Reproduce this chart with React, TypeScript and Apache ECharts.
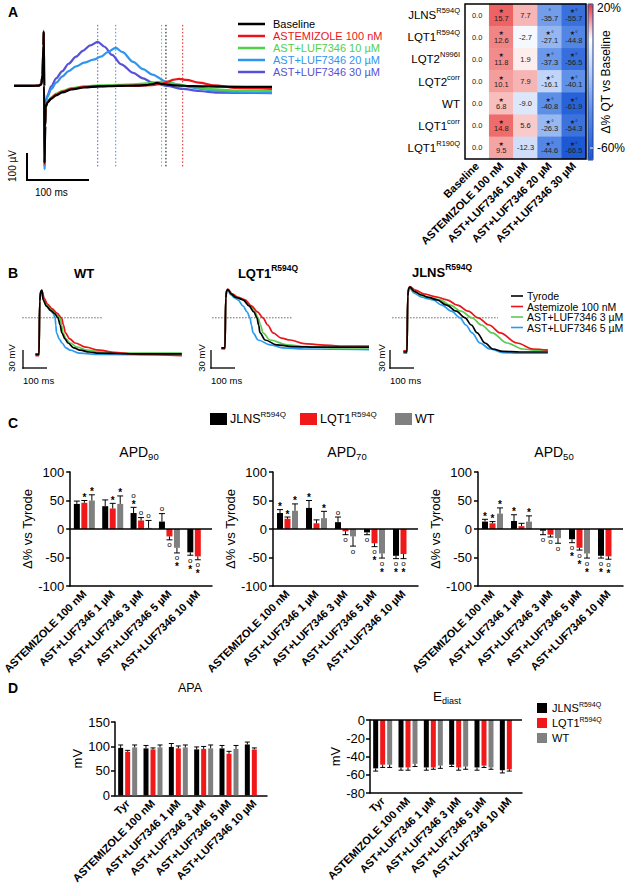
import { useEffect, useRef } from "react";
import * as echarts from "echarts";

const FONT = "'Liberation Sans', Arial, Helvetica, sans-serif";

// ---------------- Panel A: field potentials (ms, µV) ----------------
const fpNames = ["Baseline", "ASTEMIZOLE 100 nM", "AST+LUF7346 10 µM", "AST+LUF7346 20 µM", "AST+LUF7346 30 µM"];
const fpColors = ["#000000", "#e8161b", "#52d04c", "#2f95ee", "#5652d8"];
const fpBaseline = [[-48, 0], [-20, 0], [-8, 1], [-4, 6], [-2, 40], [-0.5, 150], [0, 200], [0.6, 0], [1.3, -285], [2.2, -150], [3, -80], [6, -62], [12, -48], [20, -35], [30, -24], [45, -13], [65, -6], [90, -2], [120, 0], [150, 1], [165, 3], [175, 7], [182, 11], [192, 7], [210, 2], [240, -1], [290, -3], [368, -4]];
const fpAstemizole = [[-48, 0], [-20, 0], [-8, 1], [-4, 6], [-2, 40], [-0.5, 150], [0, 200], [0.6, 0], [1.3, -290], [2.2, -150], [3, -78], [6, -60], [12, -45], [20, -32], [30, -21], [45, -11], [65, -4], [90, -1], [120, 0], [150, 1], [175, 3], [190, 8], [200, 16], [210, 23], [218, 26], [230, 22], [250, 12], [275, 2], [310, -7], [368, -11]];
const fpLuf10 = [[-48, 0], [-20, 0], [-8, 1], [-4, 6], [-2, 40], [-0.5, 150], [0, 200], [0.6, 0], [1.3, -290], [2.2, -150], [3, -76], [6, -58], [12, -42], [20, -29], [30, -18], [45, -8], [65, -2], [90, 2], [120, 4], [145, 6], [165, 9], [180, 13], [190, 15], [200, 13], [215, 6], [240, -4], [270, -12], [310, -17], [368, -19]];
const fpLuf20 = [[-48, 0], [-20, 0], [-8, 1], [-4, 6], [-2, 40], [-0.5, 150], [0, 205], [0.6, 0], [1.3, -310], [2.2, -150], [3, -70], [6, -40], [12, -12], [20, 12], [30, 35], [40, 55], [52, 72], [65, 86], [80, 97], [92, 108], [103, 125], [116, 141], [127, 125], [144, 89], [160, 62], [175, 42], [198, 15], [224, 0], [250, -10], [280, -19], [320, -24], [368, -26]];
const fpLuf30 = [[-48, 0], [-20, 0], [-8, 1], [-4, 6], [-2, 40], [-0.5, 150], [0, 200], [0.6, 0], [1.3, -300], [2.2, -150], [3, -70], [6, -35], [12, -2], [20, 28], [30, 55], [40, 82], [52, 108], [63, 130], [75, 150], [87, 163], [98, 145], [110, 115], [125, 80], [144, 48], [160, 28], [175, 12], [198, 0], [224, -11], [250, -19], [280, -25], [368, -27]];
const fpQtEnd = [197, 224, 190, 116, 87];

// ---------------- Heatmap (Δ% QT vs Baseline) ----------------
const hmRows = ["JLNS|R594Q", "LQT1|R594Q", "LQT2|N996I", "LQT2|corr", "WT", "LQT1|corr", "LQT1|R190Q"];
const hmCols = ["Baseline", "ASTEMIZOLE 100 nM", "AST+LUF7346 10 µM", "AST+LUF7346 20 µM", "AST+LUF7346 30 µM"];
const hmValues = [
  [0.0, 15.7, 7.7, -35.7, -55.7],
  [0.0, 12.6, -2.7, -27.1, -44.8],
  [0.0, 11.8, 1.9, -37.3, -56.5],
  [0.0, 10.1, 7.9, -16.1, -40.1],
  [0.0, 6.8, -9.0, -40.8, -61.9],
  [0.0, 14.8, 5.6, -26.3, -54.3],
  [0.0, 9.5, -12.3, -44.6, -66.5],
];
const hmMarks = [
  ["", "★", "", "°", "★°"],
  ["", "★", "", "★°", "★°"],
  ["", "★", "", "★°", "★°"],
  ["", "★", "", "★°", "★°"],
  ["", "★", "", "★°", "★°"],
  ["", "★", "", "★°", "★°"],
  ["", "★", "", "★°", "★°"],
];

// ---------------- Panel B: action potentials (ms, mV) ----------------
const apNames = ["Tyrode", "Astemizole 100 nM", "AST+LUF7346 3 µM", "AST+LUF7346 5 µM"];
const apColors = ["#000000", "#e8161b", "#5ccb52", "#2a9af0"];
const wtTyrode = [[-15, -79], [0, -79], [3, 10], [7, 26], [12, 28], [17, 12], [30, 2], [50, -6], [65, -11], [79, -18], [88, -30], [95, -43], [108, -53], [121, -60], [145, -68], [171, -72], [210, -75], [250, -77], [400, -78], [595, -78]];
const wtAst = [[-15, -81], [0, -81], [3, 10], [7, 25], [12, 27], [22, 14], [35, 5], [55, -3], [75, -10], [94, -18], [102, -30], [110, -43], [128, -53], [150, -60], [195, -67], [250, -72], [320, -76], [420, -79], [595, -81]];
const wtLuf3 = [[-15, -79], [0, -79], [3, 10], [7, 25], [12, 27], [22, 13], [35, 3], [55, -5], [72, -11], [88, -18], [94, -30], [100, -43], [113, -53], [129, -60], [160, -67], [200, -72], [260, -75], [380, -77], [595, -77]];
const wtLuf5 = [[-15, -78], [0, -78], [3, 10], [7, 25], [12, 27], [20, 12], [32, 1], [48, -6], [60, -11], [67, -18], [70, -30], [73, -43], [84, -53], [96, -60], [112, -68], [130, -72], [170, -77], [250, -79], [595, -80]];
const lqtTyrode = [[-15, -68], [0, -68], [3, 15], [7, 27], [12, 29], [25, 22], [45, 16], [75, 12], [100, 2], [120, -8], [133, -18], [140, -30], [146, -43], [167, -55], [215, -63], [280, -66], [400, -67], [600, -67]];
const lqtAst = [[-15, -69], [0, -69], [3, 15], [7, 28], [12, 30], [30, 22], [55, 16], [83, 12], [110, 2], [135, -8], [158, -18], [178, -30], [200, -43], [235, -52], [271, -55], [330, -61], [396, -63], [480, -65], [600, -65]];
const lqtLuf3 = [[-15, -68], [0, -68], [3, 15], [7, 27], [12, 29], [28, 21], [50, 15], [78, 12], [105, 2], [125, -8], [138, -18], [148, -30], [158, -43], [188, -55], [258, -63], [330, -66], [450, -68], [600, -68]];
const lqtLuf5 = [[-15, -70], [0, -70], [3, 14], [7, 26], [12, 28], [25, 20], [40, 15], [54, 12], [75, 2], [92, -8], [104, -18], [110, -30], [117, -43], [138, -55], [188, -63], [240, -68], [330, -70], [600, -71]];
const jlnsTyrode = [[-15, -75], [0, -75], [3, 18], [7, 31], [12, 33], [30, 26], [60, 20], [90, 16], [125, 12], [165, 3], [205, -7], [242, -18], [268, -30], [292, -43], [325, -60], [358, -70], [400, -74], [470, -75], [587, -75]];
const jlnsAst = [[-15, -73], [0, -73], [3, 18], [7, 32], [12, 34], [35, 28], [70, 22], [120, 17], [167, 12], [210, 3], [255, -7], [296, -18], [342, -30], [388, -43], [458, -60], [525, -70], [587, -72]];
const jlnsLuf3 = [[-15, -74], [0, -74], [3, 18], [7, 30], [12, 32], [30, 25], [60, 19], [100, 15], [138, 12], [180, 3], [225, -7], [271, -18], [310, -30], [354, -43], [417, -60], [483, -70], [540, -72], [587, -72]];
const jlnsLuf5 = [[-15, -77], [0, -77], [3, 17], [7, 29], [12, 31], [30, 23], [60, 17], [85, 14], [108, 12], [145, 3], [185, -7], [221, -18], [245, -30], [271, -43], [304, -60], [346, -70], [400, -76], [470, -77], [587, -77]];
const apThreshold = -18;
const wtThresholdSpan = [-70, 267];
const lqtThresholdSpan = [-54, 279];
const jlnsThresholdSpan = [-62, 379];

// ---------------- Panel C: APD (Δ% vs Tyrode) ----------------
const apdCategories = ["ASTEMIZOLE 100 nM", "AST+LUF7346 1 µM", "AST+LUF7346 3 µM", "AST+LUF7346 5 µM", "AST+LUF7346 10 µM"];
const groupNames = ["JLNS|R594Q", "LQT1|R594Q", "WT"];
const groupColors = ["#000000", "#f01818", "#808080"];
const apd90Jlns = [44, 40, 28, 13, -41];
const apd90JlnsErr = [5, 11, 10, 14, 5];
const apd90Lqt1 = [46, 36, 15, -13, -48];
const apd90Lqt1Err = [4, 9, 5, 6, 6];
const apd90Wt = [50, 44, 2, -33, null];
const apd90WtErr = [10, 14, 13, 9, null];
const apd90Marks = [["", "", "o\n*", "o", "o\n*"], ["*", "*", "o", "o", "o\n*"], ["*", "*", "o", "o\n*", ""]];
const apd70Jlns = [28, 37, 12, -6, -47];
const apd70JlnsErr = [6, 13, 9, 4, 5];
const apd70Lqt1 = [18, 10, -4, -25, -44];
const apd70Lqt1Err = [3, 6, 6, 6, 8];
const apd70Wt = [32, 19, -13, -43, null];
const apd70WtErr = [12, 12, 17, 8, null];
const apd70Marks = [["*", "*", "o", "o", "o\n*"], ["*", "", "o", "o\n*", "o\n*"], ["*", "*", "o", "o\n*", ""]];
const apd50Jlns = [13, 14, -3, -18, -47];
const apd50JlnsErr = [4, 11, 7, 6, 4];
const apd50Lqt1 = [10, 5, -10, -33, -48];
const apd50Lqt1Err = [3, 5, 4, 4, 5];
const apd50Wt = [27, 13, -16, -43, null];
const apd50WtErr = [10, 10, 9, 8, null];
const apd50Marks = [["*", "*", "o", "o\n*", "o\n*"], ["*", "", "o", "o\n*", "o\n*"], ["*", "*", "o", "o\n*", ""]];

// ---------------- Panel D: APA and Ediast (mV) ----------------
const dCategories = ["Tyr", "ASTEMIZOLE 100 nM", "AST+LUF7346 1 µM", "AST+LUF7346 3 µM", "AST+LUF7346 5 µM", "AST+LUF7346 10 µM"];
const apaJlns = [97, 96, 99, 94, 96, 104];
const apaJlnsErr = [6, 6, 7, 5, 6, 5];
const apaLqt1 = [89, 94, 96, 95, 85, 94];
const apaLqt1Err = [3, 3, 5, 5, 5, 3];
const apaWt = [98, 98, 98, 96, 95, null];
const apaWtErr = [5, 5, 5, 7, 7, null];
const ediastJlns = [-53, -52, -52, -49, -52, -55];
const ediastJlnsErr = [3, 3, 3, 2, 3, 3];
const ediastLqt1 = [-49, -52, -52, -52, -50, -54];
const ediastLqt1Err = [3, 3, 2, 3, 2, 2];
const ediastWt = [-49, -48, -50, -51, -52, null];
const ediastWtErr = [3, 3, 3, 3, 2, null];

// ---------------- helpers ----------------
function supRich(size: number, weight: string, supSize: number, lh: number) {
  return {
    b: { fontSize: size, fontFamily: FONT, fontWeight: weight, color: "#000", lineHeight: lh },
    s: { fontSize: supSize, fontFamily: FONT, fontWeight: weight, color: "#000", verticalAlign: "top" },
    d: { fontSize: supSize, fontFamily: FONT, fontWeight: weight, color: "#000", verticalAlign: "bottom" },
  };
}
function supText(name: string) {
  const [a, b] = name.split("|");
  return b ? `{b|${a}}{s|${b}}` : `{b|${a}}`;
}
function txt(x: number, y: number, text: string, o: any = {}) {
  return {
    type: "text",
    x,
    y,
    rotation: o.rotation || 0,
    silent: true,
    z: 100,
    style: {
      text,
      fill: o.color || "#000",
      fontSize: o.size || 12,
      fontFamily: FONT,
      fontWeight: o.weight || "normal",
      textAlign: o.align || "left",
      textVerticalAlign: o.valign || "middle",
      align: o.align || "left",
      verticalAlign: o.valign || "middle",
      rich: o.rich,
    },
  };
}
function seg(x1: number, y1: number, x2: number, y2: number, color = "#000", w = 1.5) {
  return { type: "line", silent: true, z: 100, shape: { x1, y1, x2, y2 }, style: { stroke: color, lineWidth: w } };
}
function rect(x: number, y: number, w: number, h: number, fill: string) {
  return { type: "rect", silent: true, z: 100, shape: { x, y, width: w, height: h }, style: { fill } };
}
function mix(a: number[], b: number[], t: number) {
  return `rgb(${Math.round(a[0] + (b[0] - a[0]) * t)},${Math.round(a[1] + (b[1] - a[1]) * t)},${Math.round(a[2] + (b[2] - a[2]) * t)})`;
}
function heatColor(v: number) {
  const W = [255, 255, 255];
  if (v >= 0) {
    if (v <= 10) return mix(W, [245, 160, 160], v / 10);
    return mix([245, 160, 160], [232, 52, 52], (v - 10) / 10);
  }
  const a = -v;
  if (a <= 20) return mix(W, [178, 202, 246], a / 20);
  if (a <= 40) return mix([178, 202, 246], [95, 145, 232], (a - 20) / 20);
  return mix([95, 145, 232], [25, 85, 212], (a - 40) / 28);
}

function errorSeries(gi: number, means: any[], errs: any[], marks: string[] | null, offset: number, cap: number) {
  return {
    type: "custom",
    xAxisIndex: gi,
    yAxisIndex: gi,
    silent: true,
    z: 5,
    data: means.map((m, i) => [i, m == null ? NaN : m, errs[i] == null ? NaN : errs[i]]),
    encode: { x: 0, y: 1 },
    renderItem: (params: any, api: any) => {
      const i = api.value(0);
      const m = api.value(1);
      const e = api.value(2);
      if (m == null || isNaN(m)) return null;
      const s = m >= 0 ? 1 : -1;
      const base = api.coord([i, m]);
      const tip = api.coord([i, m + s * e]);
      const cx = base[0] + offset;
      const children: any[] = [
        { type: "line", shape: { x1: cx, y1: base[1], x2: cx, y2: tip[1] }, style: { stroke: "#000", lineWidth: 1 } },
        { type: "line", shape: { x1: cx - cap, y1: tip[1], x2: cx + cap, y2: tip[1] }, style: { stroke: "#000", lineWidth: 1 } },
      ];
      const mk = marks ? marks[params.dataIndex] : "";
      if (mk) {
        const chars = mk.split("\n");
        const step = 7;
        chars.forEach((c, k) => {
          let y = s > 0 ? tip[1] - 5 - (chars.length - 1 - k) * step : tip[1] + 5 + k * step;
          const star = c === "*";
          if (star) y += 2;
          children.push({
            type: "text",
            x: cx,
            y,
            style: {
              text: c,
              fill: "#000",
              fontSize: star ? 10 : 8,
              fontWeight: star ? "bold" : "normal",
              fontFamily: FONT,
              textAlign: "center",
              textVerticalAlign: "middle",
              align: "center",
              verticalAlign: "middle",
            },
          });
        });
      }
      return { type: "group", children };
    },
  };
}

function buildOption() {
  const grids: any[] = [];
  const xAxes: any[] = [];
  const yAxes: any[] = [];
  const series: any[] = [];
  const g: any[] = [];

  // ---------- A traces (grid 0) ----------
  grids.push({ left: 14, top: 20, width: 258, height: 155 });
  xAxes.push({ type: "value", gridIndex: 0, min: -48, max: 368, show: false });
  yAxes.push({ type: "value", gridIndex: 0, min: -330, max: 244, show: false });
  const fpData = [fpBaseline, fpAstemizole, fpLuf10, fpLuf20, fpLuf30];
  fpQtEnd.forEach((t, i) => {
    series.push({
      type: "line", xAxisIndex: 0, yAxisIndex: 0, silent: true, symbol: "none", z: 1,
      data: [[t, 226], [t, -300]],
      lineStyle: { color: fpColors[i], width: 1, type: [1.5, 2] },
    });
  });
  [4, 3, 2, 1, 0].forEach((i) => {
    series.push({
      type: "line", name: fpNames[i], xAxisIndex: 0, yAxisIndex: 0, silent: true, symbol: "none",
      smooth: 0.3, smoothMonotone: "x", z: 3,
      data: fpData[i], lineStyle: { color: fpColors[i], width: 2.2 },
    });
  });
  fpNames.forEach((n, i) => {
    const y = 24 + i * 12;
    g.push(seg(238, y, 265, y, fpColors[i], 2.5));
    g.push(txt(273, y, n, { size: 11, color: fpColors[i] }));
  });
  g.push(seg(27, 153, 27, 181, "#000", 2));
  g.push(seg(26, 180, 89, 180, "#000", 2));
  g.push(txt(12, 166, "100 µV", { size: 10, align: "center", rotation: Math.PI / 2 }));
  g.push(txt(35, 192, "100 ms", { size: 10 }));

  // ---------- Heatmap (grid 1) ----------
  grids.push({ left: 465, top: 4, width: 121, height: 155 });
  xAxes.push({
    type: "category", gridIndex: 1, data: hmCols, position: "bottom",
    axisLine: { show: false }, axisTick: { show: false }, splitLine: { show: false },
    axisLabel: { rotate: 45, interval: 0, margin: 5, fontSize: 11, fontWeight: "bold", fontFamily: FONT, color: "#000" },
  });
  yAxes.push({
    type: "category", gridIndex: 1, data: hmRows, inverse: true,
    axisLine: { show: false }, axisTick: { show: false }, splitLine: { show: false },
    axisLabel: { margin: 5, formatter: (v: string) => supText(v), rich: supRich(11.5, "normal", 7.5, 17) },
  });
  const hmData: any[] = [];
  hmValues.forEach((row, r) => row.forEach((v, c) => hmData.push([c, r, v])));
  const hmIndex = series.length;
  series.push({
    type: "heatmap", xAxisIndex: 1, yAxisIndex: 1, silent: true, data: hmData,
    itemStyle: { borderWidth: 0 },
    label: {
      show: true,
      formatter: (p: any) => {
        const mk = hmMarks[p.value[1]][p.value[0]];
        const val = Number(p.value[2]).toFixed(1);
        return mk ? `{m|${mk}}\n{v|${val}}` : `{v|${val}}`;
      },
      rich: {
        m: { fontSize: 6, lineHeight: 6, fontFamily: "'DejaVu Sans', sans-serif", color: "#1a1a2e" },
        v: { fontSize: 7.5, lineHeight: 9, fontFamily: FONT, color: "#222" },
      },
    },
  });
  const hmStops: string[] = [];
  for (let v = -68; v <= 20; v += 4) hmStops.push(heatColor(v));
  g.push({ type: "rect", silent: true, z: 100, shape: { x: 465, y: 4, width: 121, height: 155 }, style: { fill: "none", stroke: "#000", lineWidth: 1.5 } });
  g.push({ type: "rect", silent: true, z: 100, shape: { x: 588, y: 4, width: 5, height: 156 }, style: { fill: "none", stroke: "#1c3f8c", lineWidth: 1 } });
  g.push(seg(590, 148, 593, 148, "#ffffff", 1));
  g.push(txt(597, 8, "20%", { size: 12 }));
  g.push(txt(597, 148, "-60%", { size: 12 }));
  g.push(txt(606, 82, "Δ% QT vs Baseline", { size: 12, align: "center", rotation: Math.PI / 2 }));

  // ---------- B panels (grids 2,3,4) ----------
  const bPanels = [
    { left: 22.2, data: [wtTyrode, wtAst, wtLuf3, wtLuf5], span: wtThresholdSpan },
    { left: 208.2, data: [lqtTyrode, lqtAst, lqtLuf3, lqtLuf5], span: lqtThresholdSpan },
    { left: 390.2, data: [jlnsTyrode, jlnsAst, jlnsLuf3, jlnsLuf5], span: jlnsThresholdSpan },
  ];
  bPanels.forEach((p, k) => {
    const gi = 2 + k;
    grids.push({ left: p.left, top: 283, width: 160.8, height: 78 });
    xAxes.push({ type: "value", gridIndex: gi, min: -70, max: 600, show: false });
    yAxes.push({ type: "value", gridIndex: gi, min: -90, max: 40, show: false });
    series.push({
      type: "line", xAxisIndex: gi, yAxisIndex: gi, silent: true, symbol: "none", z: 1,
      data: [[p.span[0], apThreshold], [p.span[1], apThreshold]],
      lineStyle: { color: "#666", width: 1, type: [1.5, 1.5] },
    });
    [3, 2, 1, 0].forEach((i) => {
      series.push({
        type: "line", name: apNames[i], xAxisIndex: gi, yAxisIndex: gi, silent: true, symbol: "none",
        smooth: 0.35, smoothMonotone: "x", z: 3, data: p.data[i],
        lineStyle: { color: apColors[i], width: 1.7 },
      });
    });
  });
  g.push(txt(84, 273, "WT", { size: 13, weight: "bold", align: "center" }));
  g.push(txt(268, 273, supText("LQT1|R594Q"), { align: "center", rich: supRich(13, "bold", 8.5, 19) }));
  g.push(txt(442, 272, supText("JLNS|R594Q"), { align: "center", rich: supRich(13, "bold", 8.5, 19) }));
  apNames.forEach((n, i) => {
    const y = 296 + i * 10.5;
    g.push(seg(511, y, 523, y, apColors[i], 1.6));
    g.push(txt(527, y, n, { size: 10.5 }));
  });
  [[23, 11], [211, 201], [390, 381]].forEach(([x, tx]) => {
    g.push(seg(x, 350, x, 368.7, "#000", 1.3));
    g.push(seg(x - 0.6, 368, x + 24, 368, "#000", 1.3));
    g.push(txt(tx, 358, "30 mV", { size: 9.5, align: "center", rotation: Math.PI / 2 }));
    g.push(txt(x, 380, "100 ms", { size: 9.5 }));
  });

  // ---------- C panels (grids 5,6,7) ----------
  const cPanels = [
    { left: 67, title: "90", tx: 139, vals: [apd90Jlns, apd90Lqt1, apd90Wt], errs: [apd90JlnsErr, apd90Lqt1Err, apd90WtErr], marks: apd90Marks },
    { left: 273, title: "70", tx: 347, vals: [apd70Jlns, apd70Lqt1, apd70Wt], errs: [apd70JlnsErr, apd70Lqt1Err, apd70WtErr], marks: apd70Marks },
    { left: 478, title: "50", tx: 554, vals: [apd50Jlns, apd50Lqt1, apd50Wt], errs: [apd50JlnsErr, apd50Lqt1Err, apd50WtErr], marks: apd50Marks },
  ];
  cPanels.forEach((p, k) => {
    const gi = 5 + k;
    grids.push({ left: p.left, top: 472, width: 145, height: 114 });
    xAxes.push({
      type: "category", gridIndex: gi, data: apdCategories, position: "bottom",
      axisLine: { onZero: false, lineStyle: { color: "#000", width: 1.5 } },
      axisTick: { alignWithLabel: true, length: 4, lineStyle: { color: "#000", width: 1.5 } },
      axisLabel: { rotate: 45, interval: 0, margin: 6, fontSize: 11, fontWeight: "bold", fontFamily: FONT, color: "#000" },
      splitLine: { show: false },
    });
    yAxes.push({
      type: "value", gridIndex: gi, min: -100, max: 100, interval: 50,
      axisLine: { show: true, lineStyle: { color: "#000", width: 1.5 } },
      axisTick: { show: true, length: 4, lineStyle: { color: "#000", width: 1.5 } },
      axisLabel: { fontSize: 13, fontFamily: FONT, color: "#000", margin: 6 },
      splitLine: { show: false },
      name: "Δ% vs Tyrode", nameLocation: "middle", nameGap: 34,
      nameTextStyle: { fontSize: 13, fontFamily: FONT, color: "#000" },
    });
    p.vals.forEach((vals, s) => {
      series.push({
        type: "bar", name: groupNames[s], xAxisIndex: gi, yAxisIndex: gi, silent: true,
        barWidth: 6, barGap: "25%", z: 3,
        data: vals.map((v) => (v == null ? "-" : v)),
        itemStyle: { color: groupColors[s] },
        markLine: s === 0 ? {
          silent: true, symbol: "none", label: { show: false },
          lineStyle: { color: "#000", width: 1.5, type: "solid" }, data: [{ yAxis: 0 }],
        } : undefined,
      });
    });
    p.vals.forEach((vals, s) => {
      series.push(errorSeries(gi, vals, p.errs[s], p.marks[s], (s - 1) * 7.5, 3));
    });
    g.push(txt(p.tx, 452, `{b|APD}{d|${p.title}}`, { align: "center", rich: supRich(14, "normal", 9.5, 18) }));
  });
  // C legend
  g.push(rect(210, 413, 17, 12, groupColors[0]));
  g.push(txt(230, 419, supText(groupNames[0]), { rich: supRich(12.5, "normal", 8, 17) }));
  g.push(rect(300, 413, 17, 12, groupColors[1]));
  g.push(txt(320, 419, supText(groupNames[1]), { rich: supRich(12.5, "normal", 8, 17) }));
  g.push(rect(395, 413, 17, 12, groupColors[2]));
  g.push(txt(415, 419, "WT", { size: 12.5 }));

  // ---------- D panels (grids 8,9) ----------
  const dPanels = [
    { left: 115, top: 722, height: 74, min: 0, max: 150, interval: 50, gap: 26, vals: [apaJlns, apaLqt1, apaWt], errs: [apaJlnsErr, apaLqt1Err, apaWtErr] },
    { left: 370, top: 720, height: 73, min: -80, max: 0, interval: 20, gap: 20, vals: [ediastJlns, ediastLqt1, ediastWt], errs: [ediastJlnsErr, ediastLqt1Err, ediastWtErr] },
  ];
  dPanels.forEach((p, k) => {
    const gi = 8 + k;
    grids.push({ left: p.left, top: p.top, width: 152, height: p.height });
    xAxes.push({
      type: "category", gridIndex: gi, data: dCategories, position: "bottom",
      axisLine: { onZero: false, lineStyle: { color: "#000", width: 1.5 } },
      axisTick: { alignWithLabel: true, length: 4, lineStyle: { color: "#000", width: 1.5 } },
      axisLabel: { rotate: 45, interval: 0, margin: 6, fontSize: 11, fontWeight: "bold", fontFamily: FONT, color: "#000" },
      splitLine: { show: false },
    });
    yAxes.push({
      type: "value", gridIndex: gi, min: p.min, max: p.max, interval: p.interval,
      axisLine: { show: true, lineStyle: { color: "#000", width: 1.5 } },
      axisTick: { show: true, length: 4, lineStyle: { color: "#000", width: 1.5 } },
      axisLabel: { fontSize: 13, fontFamily: FONT, color: "#000", margin: 5 },
      splitLine: { show: false },
      name: "mV", nameLocation: "middle", nameGap: p.gap,
      nameTextStyle: { fontSize: 13, fontFamily: FONT, color: "#000" },
    });
    p.vals.forEach((vals, s) => {
      series.push({
        type: "bar", name: groupNames[s], xAxisIndex: gi, yAxisIndex: gi, silent: true,
        barWidth: 5, barGap: "40%", z: 3,
        data: vals.map((v) => (v == null ? "-" : v)),
        itemStyle: { color: groupColors[s] },
        markLine: s === 0 && k === 1 ? {
          silent: true, symbol: "none", label: { show: false },
          lineStyle: { color: "#000", width: 1.5, type: "solid" }, data: [{ yAxis: 0 }],
        } : undefined,
      });
    });
    p.vals.forEach((vals, s) => {
      series.push(errorSeries(gi, vals, p.errs[s], null, (s - 1) * 7, 2.5));
    });
  });
  g.push(txt(190, 688, "APA", { size: 12.5, align: "center" }));
  g.push(txt(447, 696, "{b|E}{d|diast}", { align: "center", rich: supRich(13.5, "normal", 9, 18) }));
  [0, 1, 2].forEach((s) => {
    const y = 703 + s * 15;
    g.push(rect(537, y, 10, 10, groupColors[s]));
    g.push(txt(552, y + 5, supText(groupNames[s]), { rich: supRich(11, "normal", 7, 15) }));
  });

  // panel letters
  g.push(txt(8, 12, "A", { size: 14, weight: "bold" }));
  g.push(txt(8, 273, "B", { size: 14, weight: "bold" }));
  g.push(txt(8, 423, "C", { size: 14, weight: "bold" }));
  g.push(txt(8, 688, "D", { size: 14, weight: "bold" }));

  return {
    animation: false,
    backgroundColor: "#ffffff",
    textStyle: { fontFamily: FONT },
    grid: grids,
    xAxis: xAxes,
    yAxis: yAxes,
    visualMap: {
      type: "continuous", seriesIndex: hmIndex, min: -68, max: 20, calculable: false,
      left: 588, top: 4, itemWidth: 5, itemHeight: 156, padding: 0, show: true,
      inRange: { color: hmStops }, text: undefined as any, showLabel: false,
    },
    series,
    graphic: { elements: g },
  };
}

export default function App() {
  const ref = useRef<HTMLDivElement>(null);
  useEffect(() => {
    if (!ref.current) return;
    const chart = echarts.init(ref.current, undefined, { renderer: "svg" });
    chart.setOption(buildOption() as any);
    return () => chart.dispose();
  }, []);
  return (
    <div
      ref={ref}
      style={{ position: "fixed", left: 0, top: 0, width: 628, height: 886, background: "#fff" }}
    />
  );
}
